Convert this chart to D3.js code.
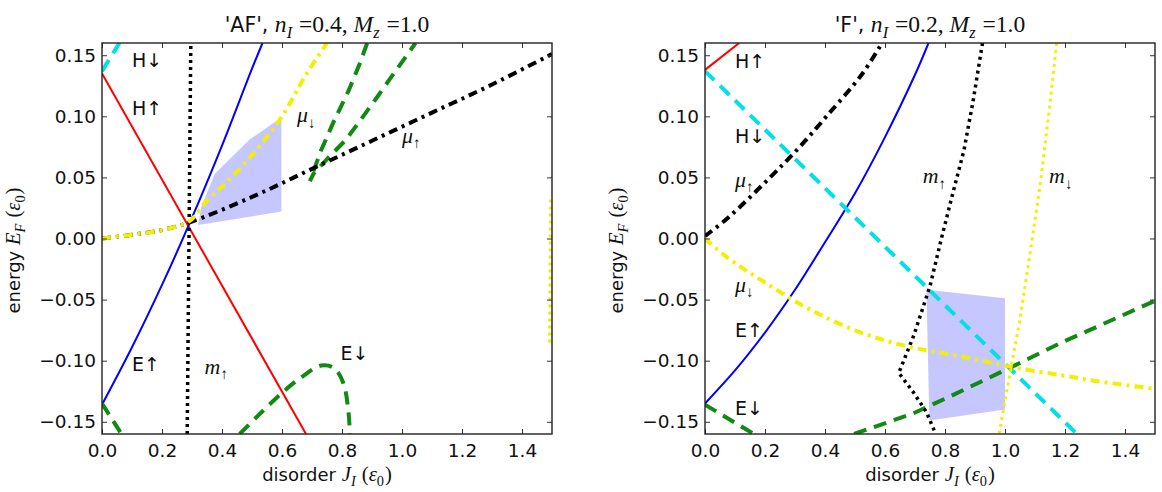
<!DOCTYPE html>
<html>
<head>
<meta charset="utf-8">
<script src="https://cdn.jsdelivr.net/npm/d3@7"></script>
<style>
  body { margin: 0; background: #fff; }
  text { font-family: "DejaVu Sans", sans-serif; fill: #111; }
</style>
</head>
<body>
<svg width="1162" height="492"></svg>
<script>
// ---- data: [J_I, E_F] pairs ----
// left panel, 'AF'
const afHup     = [[0, 0.135], [0.68, -0.16]];
const afEup     = [[0, -0.136], [0.1, -0.089], [0.2, -0.038], [0.3, 0.017], [0.4, 0.076], [0.5, 0.139], [0.535, 0.16]];
const afHdown   = [[0, 0.137], [0.058, 0.16]];
const afMup     = [[0.284, -0.16], [0.296, 0.16]];
const afMdown   = [[1.497, 0.032], [1.493, -0.088]];
const afMuUp    = [[0, 0.0], [0.1, 0.003], [0.2, 0.007], [0.29, 0.013], [0.5, 0.034], [0.7, 0.057],
                   [0.9, 0.08], [1.1, 0.103], [1.3, 0.126], [1.5, 0.151]];
const afMuDown  = [[0, 0.0], [0.1, 0.003], [0.2, 0.007], [0.29, 0.014], [0.35, 0.031], [0.42, 0.047], [0.52, 0.074],
                   [0.6, 0.1], [0.68, 0.134], [0.75, 0.16]];
const afEdownA  = [[0.884, 0.16], [0.859, 0.143], [0.822, 0.121], [0.773, 0.096], [0.73, 0.072], [0.693, 0.047],
                   [0.705, 0.053], [0.754, 0.066], [0.81, 0.08], [0.859, 0.096], [0.915, 0.115], [0.964, 0.132], [1.045, 0.16]];
const afEdownB  = [[0, -0.135], [0.065, -0.16]];
const afEdownC  = [[0.459, -0.16], [0.52, -0.145], [0.606, -0.125], [0.668, -0.113], [0.73, -0.104], [0.773, -0.106],
                   [0.804, -0.118], [0.822, -0.143], [0.826, -0.16]];
const afShade   = [[0.32, 0.011], [0.331, 0.026], [0.376, 0.053], [0.492, 0.081], [0.598, 0.099], [0.598, 0.022]];

// right panel, 'F'
const fHup      = [[0, 0.138], [0.114, 0.16]];
const fHdown    = [[0, 0.137], [1.24, -0.16]];
const fMuUp     = [[0, 0.002], [0.077, 0.017], [0.213, 0.049], [0.312, 0.074], [0.405, 0.1], [0.522, 0.134], [0.59, 0.16]];
const fEup      = [[0, -0.135], [0.1, -0.108], [0.2, -0.077], [0.3, -0.042], [0.4, -0.003], [0.5, 0.037], [0.6, 0.083],
                   [0.7, 0.134], [0.745, 0.16]];
const fMup      = [[0.925, 0.16], [0.894, 0.113], [0.863, 0.072], [0.825, 0.036], [0.788, 0.0], [0.75, -0.039], [0.695, -0.08],
                   [0.646, -0.11], [0.695, -0.126], [0.738, -0.142], [0.769, -0.16]];
const fMdown    = [[1.172, 0.16], [1.147, 0.104], [1.116, 0.042], [1.091, 0.0], [1.048, -0.069], [1.017, -0.11], [0.98, -0.16]];
const fMuDown   = [[0, 0.0], [0.077, -0.016], [0.2, -0.036], [0.349, -0.058], [0.52, -0.077], [0.67, -0.088], [0.819, -0.095],
                   [0.942, -0.101], [1.04, -0.106], [1.19, -0.112], [1.313, -0.117], [1.5, -0.123]];
const fEdownA   = [[0, -0.136], [0.163, -0.16]];
const fEdownB   = [[0.497, -0.16], [0.695, -0.143], [0.819, -0.129], [1.04, -0.103], [1.19, -0.085], [1.5, -0.051]];
const fShade    = [[0.738, -0.042], [1.0, -0.049], [1.0, -0.14], [0.748, -0.149]];

const xTicks = [0, 0.2, 0.4, 0.6, 0.8, 1.0, 1.2, 1.4];
const yTicks = [-0.15, -0.10, -0.05, 0.00, 0.05, 0.10, 0.15];

// in-plot labels: [text parts, J, E]
const afLabels = [
  [[["H↓", "s"]], 0.1, 0.145], [[["H↑", "s"]], 0.1, 0.106],
  [[["μ", "m"], ["↓", "sub"]], 0.65, 0.1], [[["μ", "m"], ["↑", "sub"]], 1.0, 0.083],
  [[["E↑", "s"]], 0.1, -0.104], [[["m", "m"], ["↑", "sub"]], 0.342, -0.106], [[["E↓", "s"]], 0.795, -0.095]
];
const fLabels = [
  [[["H↑", "s"]], 0.1, 0.144], [[["H↓", "s"]], 0.1, 0.083], [[["μ", "m"], ["↑", "sub"]], 0.1, 0.047],
  [[["μ", "m"], ["↓", "sub"]], 0.1, -0.039], [[["E↑", "s"]], 0.1, -0.076], [[["E↓", "s"]], 0.1, -0.14],
  [[["m", "m"], ["↑", "sub"]], 0.726, 0.05], [[["m", "m"], ["↓", "sub"]], 1.147, 0.05]
];

const RED = "#ff0000", BLUE = "#0000ff", CYAN = "#00e0e6", GREEN = "#108a10", YEL = "#f2f000", BLK = "#000";
const DASH = "13,8", DOT = "3,4", DASHDOT = "9,5,3,5";

const panels = [
  { left: 102, title: [["'AF', ", "s"], ["n", "m"], ["I", "sub"], [" =0.4, ", "r"], ["M", "m"], ["z", "sub"], [" =1.0", "r"]],
    shade: afShade, labels: afLabels,
    series: [
      { d: afHdown, c: CYAN, w: 4, dash: DASH },
      { d: afHup, c: RED, w: 2 },
      { d: afEup, c: BLUE, w: 2, smooth: true },
      { d: afEdownA, c: GREEN, w: 4, dash: DASH },
      { d: afEdownB, c: GREEN, w: 4, dash: DASH },
      { d: afEdownC, c: GREEN, w: 4, dash: DASH, smooth: true },
      { d: afMup, c: BLK, w: 3.5, dash: DOT },
      { d: afMdown, c: YEL, w: 4, dash: DOT },
      { d: afMuUp, c: BLK, w: 4, dash: DASHDOT, smooth: true },
      { d: afMuDown, c: YEL, w: 4, dash: DASHDOT, smooth: true }
    ] },
  { left: 705, title: [["'F', ", "s"], ["n", "m"], ["I", "sub"], [" =0.2, ", "r"], ["M", "m"], ["z", "sub"], [" =1.0", "r"]],
    shade: fShade, labels: fLabels,
    series: [
      { d: fHup, c: RED, w: 2 },
      { d: fEup, c: BLUE, w: 2, smooth: true },
      { d: fHdown, c: CYAN, w: 4, dash: DASH },
      { d: fEdownA, c: GREEN, w: 4, dash: DASH },
      { d: fEdownB, c: GREEN, w: 4, dash: DASH },
      { d: fMup, c: BLK, w: 3.5, dash: DOT },
      { d: fMdown, c: YEL, w: 3, dash: DOT },
      { d: fMuUp, c: BLK, w: 4, dash: DASHDOT, smooth: true },
      { d: fMuDown, c: YEL, w: 4, dash: DASHDOT, smooth: true }
    ] }
];

const svg = d3.select("svg");
const W = 450, H = 391, TOP = 43;

// write mixed sans / math text as tspans
function mathText(sel, parts, size) {
  parts.forEach(([t, k]) => {
    const ts = sel.append("tspan").text(t);
    if (k === "s") ts.style("font-family", "'DejaVu Sans', sans-serif").attr("font-size", size);
    if (k === "m") ts.style("font-family", "'Liberation Serif', serif").style("font-style", "italic").attr("font-size", size * 1.15);
    if (k === "r") ts.style("font-family", "'Liberation Serif', serif").attr("font-size", size * 1.15);
    if (k === "sub" || k === "subr") {
      ts.style("font-family", "'Liberation Serif', serif").style("font-style", k === "sub" ? "italic" : "normal")
        .attr("font-size", size * 0.8).attr("dy", size * 0.3);
      sel.append("tspan").text("\u200a").attr("dy", -size * 0.3).attr("font-size", size * 0.5);
    }
  });
  return sel;
}

panels.forEach((p, i) => {
  const g = svg.append("g").attr("transform", `translate(${p.left},${TOP})`);
  const x = d3.scaleLinear().domain([0, 1.5]).range([0, W]);
  const y = d3.scaleLinear().domain([-0.16, 0.16]).range([H, 0]);

  g.append("clipPath").attr("id", "clip" + i)
    .append("rect").attr("width", W).attr("height", H);
  const plot = g.append("g").attr("clip-path", `url(#clip${i})`);

  const line = d3.line().x(d => x(d[0])).y(d => y(d[1]));

  plot.append("path")
    .attr("d", line(p.shade) + "Z")
    .attr("fill", "#0000ff")
    .attr("fill-opacity", 0.22);

  plot.selectAll("path.series")
    .data(p.series)
    .enter().append("path")
    .attr("class", "series")
    .attr("d", s => (s.smooth ? line.curve(d3.curveCatmullRom) : line.curve(d3.curveLinear))(s.d))
    .attr("fill", "none")
    .attr("stroke", s => s.c)
    .attr("stroke-width", s => s.w)
    .attr("stroke-dasharray", s => s.dash || null);

  p.labels.forEach(([parts, jx, ey]) => {
    mathText(g.append("text").attr("x", x(jx)).attr("y", y(ey)).attr("dy", "0.35em"), parts, 19);
  });

  // axes with inward ticks on all four sides
  const ax = [
    [d3.axisBottom(x).tickValues(xTicks).tickFormat(d3.format(".1f")), `translate(0,${H})`, 10],
    [d3.axisTop(x).tickValues(xTicks).tickFormat(""), "", 0],
    [d3.axisLeft(y).tickValues(yTicks).tickFormat(d3.format(".2f")), "", 6],
    [d3.axisRight(y).tickValues(yTicks).tickFormat(""), `translate(${W},0)`, 0]
  ];
  ax.forEach(([a, tr, pad]) => {
    const s = g.append("g").attr("transform", tr)
      .call(a.tickSizeInner(-5).tickSizeOuter(0).tickPadding(pad));
    s.select(".domain").remove();
    s.selectAll("line").attr("stroke", "#333");
    s.selectAll("text").attr("font-size", 18.5).style("font-family", "'DejaVu Sans', sans-serif").attr("fill", "#111");
  });

  g.append("rect").attr("width", W).attr("height", H)
    .attr("fill", "none").attr("stroke", "#222").attr("stroke-width", 1.4);

  mathText(g.append("text").attr("x", W / 2).attr("y", -11).attr("text-anchor", "middle"), p.title, 20.5);
  mathText(g.append("text").attr("x", W / 2).attr("y", H + 47).attr("text-anchor", "middle"),
    [["disorder ", "s"], ["J", "m"], ["I", "sub"], [" (", "r"], ["ε", "m"], ["0", "subr"], [")", "r"]], 18);
  mathText(g.append("text").attr("transform", `translate(-82,${H / 2 + 12}) rotate(-90)`).attr("text-anchor", "middle"),
    [["energy ", "s"], ["E", "m"], ["F", "sub"], [" (", "r"], ["ε", "m"], ["0", "subr"], [")", "r"]], 18);
});
</script>
</body>
</html>
